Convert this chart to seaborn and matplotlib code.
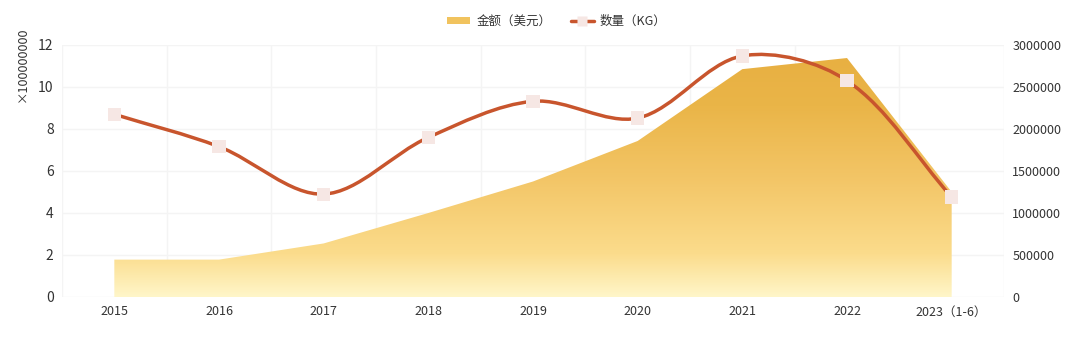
import numpy as np
import pandas as pd
import matplotlib
matplotlib.use("Agg")
import matplotlib.pyplot as plt
import seaborn as sns
from matplotlib.path import Path
from matplotlib.patches import PathPatch, Rectangle
from matplotlib.colors import LinearSegmentedColormap
from matplotlib.lines import Line2D

# ---- data ----
categories = ["2015", "2016", "2017", "2018", "2019", "2020", "2021", "2022", "2023（1-6）"]
amount_1e8 = [1.78, 1.78, 2.55, 4.0, 5.5, 7.43, 10.85, 11.38, 5.0]
quantity_kg = [2175000, 1790000, 1225000, 1900000, 2330000, 2130000, 2870000, 2575000, 1190000]
left_ticks = [0, 2, 4, 6, 8, 10, 12]
right_ticks = [0, 500000, 1000000, 1500000, 2000000, 2500000, 3000000]
legend_labels = ["金额（美元）", "数量（KG）"]

sns.set_theme(style="white")
plt.rcParams["font.family"] = ["Noto Sans CJK SC", "DejaVu Sans"]

W, H = 1088, 344
fig = plt.figure(figsize=(W / 100, H / 100), dpi=100)
ax = fig.add_axes([62 / W, 47 / H, (1004 - 62) / W, (297 - 45) / H])
ax2 = ax.twinx()

n = len(categories)
x = np.arange(n)
ax.set_xlim(-0.5, n - 0.5)
ax.set_ylim(0, 12)
ax2.set_ylim(0, 3000000)

# grid
grid_c = "#f4f4f4"
for t in left_ticks:
    ax.axhline(t, color=grid_c, lw=1, zorder=0)
for b in np.arange(-0.5, n, 1.0):
    ax.axvline(b, color=grid_c, lw=1, zorder=0)

# area with vertical gradient
df = pd.DataFrame({"cat": categories, "x": x, "amount": amount_1e8, "qty": quantity_kg})
poly = ax.fill_between(df["x"], 0, df["amount"], color="none", lw=0, zorder=1)
cmap = LinearSegmentedColormap.from_list(
    "gold", [(0.0, "#FFF6C9"), (0.18, "#FBDC8C"), (0.5, "#F3C566"), (0.8, "#EAB548"), (1.0, "#E8B042")])
grad = np.linspace(0, 1, 256).reshape(-1, 1)
ymax = max(amount_1e8)
im = ax.imshow(grad, cmap=cmap, origin="lower", aspect="auto",
               extent=[0, n - 1, 0, ymax], zorder=1, interpolation="bilinear")
clip = PathPatch(poly.get_paths()[0], transform=ax.transData, facecolor="none", edgecolor="none")
ax.add_patch(clip)
im.set_clip_path(clip)
ax.set_xlim(-0.5, n - 0.5)
ax.set_ylim(0, 12)

# smooth line (bezier through the points), control points built in pixel-scaled space
sx, sy = 104.7, 84.0 / 1e6
px = x * sx
py = np.array(quantity_kg, dtype=float) * sy
smooth = 0.33
verts = [(px[0], py[0])]
codes = [Path.MOVETO]
def cps(i):
    pi = max(i - 1, 0); ni = min(i + 1, n - 1)
    vx, vy = px[ni] - px[pi], py[ni] - py[pi]
    d0 = np.hypot(px[i] - px[pi], py[i] - py[pi])
    d1 = np.hypot(px[ni] - px[i], py[ni] - py[i])
    r = d1 / (d0 + d1) if d0 + d1 > 0 else 0.5
    c_in = (px[i] - vx * smooth * (1 - r), py[i] - vy * smooth * (1 - r))
    c_out = (px[i] + vx * smooth * r, py[i] + vy * smooth * r)
    return c_in, c_out
for i in range(n - 1):
    _, c1 = cps(i)
    c2, _ = cps(i + 1)
    verts += [c1, c2, (px[i + 1], py[i + 1])]
    codes += [Path.CURVE4] * 3
verts = [(vx_ / sx, vy_ / sy) for vx_, vy_ in verts]
line_c = "#C8552D"
ax2.add_patch(PathPatch(Path(verts, codes), transform=ax2.transData, facecolor="none",
                        edgecolor=line_c, lw=2.5, zorder=3, capstyle="round"))
sns.scatterplot(data=df, x="x", y="qty", ax=ax2, marker="s", s=90, color="#F6E7E4",
                edgecolor="none", zorder=4, legend=False)
ax2.set_xlim(-0.5, n - 0.5)

# axes styling
for a in (ax, ax2):
    for s in a.spines.values():
        s.set_visible(False)
    a.set_xlabel("")
    a.set_ylabel("")
ax.set_zorder(ax2.get_zorder() - 1)
ax.patch.set_visible(False)
ax2.set_ylim(0, 3000000)

tick_c = "#333333"
ax.set_xticks(x)
ax.set_xticklabels(categories, fontsize=9, color=tick_c)
ax.set_yticks(left_ticks)
ax.set_yticklabels([str(t) for t in left_ticks], fontsize=10, color=tick_c)
ax2.set_yticks(right_ticks)
ax2.set_yticklabels([str(t) for t in right_ticks], fontsize=9, color=tick_c)
ax.tick_params(axis="both", length=0, pad=6)
ax2.tick_params(axis="y", length=0, pad=6)
ax2.tick_params(axis="x", length=0, labelbottom=False)

fig.text(22 / W, 1 - 27 / H, "×100000000", rotation=90, ha="center", va="top",
         fontsize=9, color=tick_c)

# legend
h1 = Rectangle((0, 0), 1, 1, facecolor="#F1C35E", edgecolor="none")
h2 = Line2D([], [], color=line_c, lw=2.5, marker="s", markersize=7,
            markerfacecolor="#F6E7E4", markeredgecolor="none")
fig.legend([h1, h2], legend_labels, loc="center", bbox_to_anchor=(557 / W, 1 - 21 / H),
           ncol=2, frameon=False, fontsize=9, handlelength=1.8, handleheight=0.5,
           columnspacing=1.6, handletextpad=0.5, labelcolor=tick_c)

fig.savefig("out.png", dpi=100, facecolor="white")
